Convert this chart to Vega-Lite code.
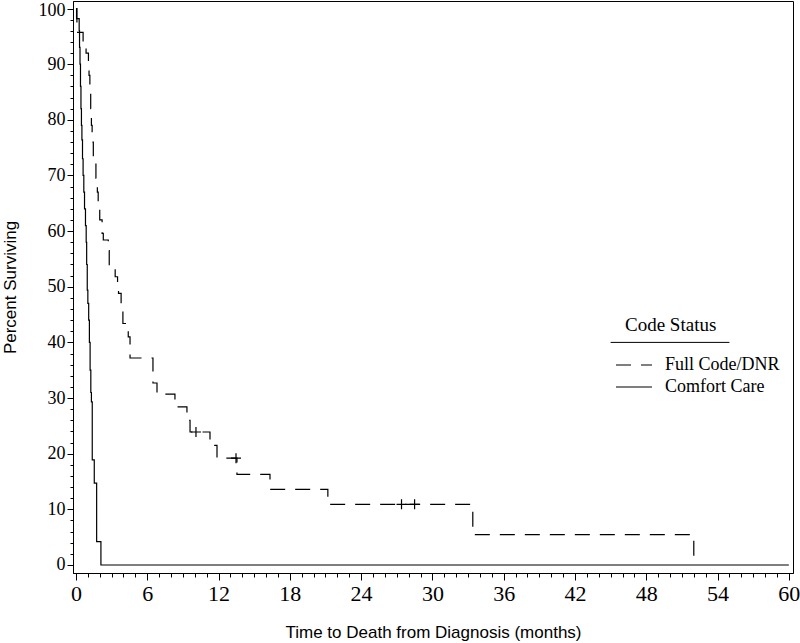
{
  "$schema": "https://vega.github.io/schema/vega-lite/v6.json",
  "width": 720,
  "height": 572,
  "autosize": {"type": "none"},
  "padding": {"left": 73, "top": 1, "right": 7, "bottom": 70},
  "background": "white",
  "config": {
    "view": {"stroke": "black", "strokeWidth": 1},
    "axis": {"grid": false, "domainColor": "black", "tickColor": "black", "labelColor": "black", "titleColor": "black", "labelFont": "Liberation Serif", "titleFont": "Liberation Sans", "titleFontWeight": "normal"}
  },
  "datasets": {
    "km": [
      {"t": 0, "s": 100, "g": "Full Code/DNR"},
      {"t": 0.08, "s": 95.7, "g": "Full Code/DNR"},
      {"t": 0.6, "s": 93.7, "g": "Full Code/DNR"},
      {"t": 0.85, "s": 92, "g": "Full Code/DNR"},
      {"t": 1.05, "s": 90, "g": "Full Code/DNR"},
      {"t": 1.1, "s": 88, "g": "Full Code/DNR"},
      {"t": 1.17, "s": 85, "g": "Full Code/DNR"},
      {"t": 1.24, "s": 82, "g": "Full Code/DNR"},
      {"t": 1.3, "s": 79, "g": "Full Code/DNR"},
      {"t": 1.36, "s": 76, "g": "Full Code/DNR"},
      {"t": 1.46, "s": 72.2, "g": "Full Code/DNR"},
      {"t": 1.68, "s": 69.5, "g": "Full Code/DNR"},
      {"t": 1.8, "s": 67, "g": "Full Code/DNR"},
      {"t": 1.87, "s": 64.6, "g": "Full Code/DNR"},
      {"t": 2.0, "s": 62, "g": "Full Code/DNR"},
      {"t": 2.2, "s": 59.6, "g": "Full Code/DNR"},
      {"t": 2.3, "s": 58.4, "g": "Full Code/DNR"},
      {"t": 2.72, "s": 56.5, "g": "Full Code/DNR"},
      {"t": 2.8, "s": 53.5, "g": "Full Code/DNR"},
      {"t": 3.3, "s": 51.8, "g": "Full Code/DNR"},
      {"t": 3.5, "s": 50.3, "g": "Full Code/DNR"},
      {"t": 3.58, "s": 48.8, "g": "Full Code/DNR"},
      {"t": 3.8, "s": 45.8, "g": "Full Code/DNR"},
      {"t": 3.95, "s": 43.4, "g": "Full Code/DNR"},
      {"t": 4.4, "s": 41, "g": "Full Code/DNR"},
      {"t": 4.55, "s": 37.2, "g": "Full Code/DNR"},
      {"t": 6.48, "s": 32.7, "g": "Full Code/DNR"},
      {"t": 6.82, "s": 30.7, "g": "Full Code/DNR"},
      {"t": 8.33, "s": 28.4, "g": "Full Code/DNR"},
      {"t": 9.34, "s": 26.0, "g": "Full Code/DNR"},
      {"t": 9.6, "s": 23.9, "g": "Full Code/DNR"},
      {"t": 11.28, "s": 21.5, "g": "Full Code/DNR"},
      {"t": 11.87, "s": 19.2, "g": "Full Code/DNR"},
      {"t": 13.55, "s": 16.3, "g": "Full Code/DNR"},
      {"t": 16.33, "s": 13.6, "g": "Full Code/DNR"},
      {"t": 21.2, "s": 10.9, "g": "Full Code/DNR"},
      {"t": 33.4, "s": 5.45, "g": "Full Code/DNR"},
      {"t": 52.0, "s": 0, "g": "Full Code/DNR"},
      {"t": 0, "s": 100, "g": "Comfort Care"},
      {"t": 0.05, "s": 98.2, "g": "Comfort Care"},
      {"t": 0.27, "s": 96, "g": "Comfort Care"},
      {"t": 0.3, "s": 93, "g": "Comfort Care"},
      {"t": 0.34, "s": 90, "g": "Comfort Care"},
      {"t": 0.38, "s": 86, "g": "Comfort Care"},
      {"t": 0.42, "s": 82, "g": "Comfort Care"},
      {"t": 0.46, "s": 79, "g": "Comfort Care"},
      {"t": 0.5, "s": 76.4, "g": "Comfort Care"},
      {"t": 0.55, "s": 73, "g": "Comfort Care"},
      {"t": 0.6, "s": 70, "g": "Comfort Care"},
      {"t": 0.66, "s": 67, "g": "Comfort Care"},
      {"t": 0.72, "s": 64, "g": "Comfort Care"},
      {"t": 0.8, "s": 61, "g": "Comfort Care"},
      {"t": 0.86, "s": 58, "g": "Comfort Care"},
      {"t": 0.9, "s": 54, "g": "Comfort Care"},
      {"t": 0.95, "s": 49.4, "g": "Comfort Care"},
      {"t": 1.0, "s": 47, "g": "Comfort Care"},
      {"t": 1.07, "s": 44, "g": "Comfort Care"},
      {"t": 1.13, "s": 40, "g": "Comfort Care"},
      {"t": 1.19, "s": 35, "g": "Comfort Care"},
      {"t": 1.25, "s": 31, "g": "Comfort Care"},
      {"t": 1.3, "s": 29.3, "g": "Comfort Care"},
      {"t": 1.37, "s": 18.9, "g": "Comfort Care"},
      {"t": 1.54, "s": 14.7, "g": "Comfort Care"},
      {"t": 1.74, "s": 4.2, "g": "Comfort Care"},
      {"t": 2.1, "s": 0, "g": "Comfort Care"},
      {"t": 60, "s": 0, "g": "Comfort Care"}
    ],
    "cens": [
      {"t": 10.1, "s": 23.9},
      {"t": 13.47, "s": 19.2},
      {"t": 27.4, "s": 10.9},
      {"t": 28.5, "s": 10.9}
    ]
  },
  "layer": [
    {
      "data": {"name": "km"},
      "mark": {"type": "line", "interpolate": "step-after", "strokeWidth": 1.2, "color": "black"},
      "encoding": {
        "x": {
          "field": "t", "type": "quantitative",
          "scale": {"domain": [-0.25, 60.35], "nice": false, "zero": false},
          "axis": {
            "title": "Time to Death from Diagnosis (months)",
            "values": [0,6,12,18,24,30,36,42,48,54,60],
            "tickSize": 7,
            "labelOverlap": false,
            "labelFlush": false,
            "labelFontSize": 22,
            "labelPadding": 3,
            "titleFontSize": 17,
            "titleY": 59,
            "titleBaseline": "middle"
          }
        },
        "y": {
          "field": "s", "type": "quantitative",
          "scale": {"domain": [-1.44, 101.35], "nice": false, "zero": false},
          "axis": {
            "title": "Percent Surviving",
            "values": [0,10,20,30,40,50,60,70,80,90,100],
            "tickSize": 6,
            "labelOverlap": false,
            "labelFlush": false,
            "labelFontSize": 18,
            "labelPadding": 2,
            "labelOffset": {"condition": {"test": "datum.value === 100", "value": 2}, "value": 0},
            "titleFontSize": 17,
            "titleX": -63,
            "titleBaseline": "middle"
          }
        },
        "strokeDash": {
          "field": "g", "type": "nominal",
          "scale": {"domain": ["Full Code/DNR", "Comfort Care"], "range": [[15, 10], [1, 0]]},
          "legend": {
            "title": "Code Status",
            "orient": "none",
            "legendX": 552,
            "legendY": 315,
            "padding": 0,
            "symbolType": "M-6,0H6",
            "symbolSize": 36,
            "symbolStrokeColor": "black",
            "symbolStrokeWidth": 1.2,
            "labelOffset": 22,
            "labelFont": "Liberation Serif",
            "labelFontSize": 18,
            "labelColor": "black",
            "titleFont": "Liberation Serif",
            "titleFontSize": 19,
            "titleFontWeight": "normal",
            "titleColor": "black",
            "titlePadding": 21,
            "rowPadding": 4
          }
        }
      }
    },
    {
      "data": {"name": "cens"},
      "mark": {"type": "point", "shape": "M-1,0H1M0,-1V1", "size": 100, "filled": false, "stroke": "black", "strokeWidth": 1.2, "opacity": 1},
      "encoding": {
        "x": {"field": "t", "type": "quantitative", "axis": null},
        "y": {"field": "s", "type": "quantitative", "axis": null}
      }
    },
    {
      "data": {"values": [{}]},
      "mark": {"type": "rule", "color": "black", "strokeWidth": 1},
      "encoding": {
        "x": {"datum": 45, "axis": {"orient": "bottom", "values": [1,2,3,4,5,7,8,9,10,11,13,14,15,16,17,19,20,21,22,23,25,26,27,28,29,31,32,33,34,35,37,38,39,40,41,43,44,45,46,47,49,50,51,52,53,55,56,57,58,59], "labels": false, "domain": false, "tickSize": 4, "title": null, "labelOverlap": false}},
        "x2": {"datum": 55},
        "y": {"datum": 40, "axis": {"orient": "left", "values": [2,4,6,8,12,14,16,18,22,24,26,28,32,34,36,38,42,44,46,48,52,54,56,58,62,64,66,68,72,74,76,78,82,84,86,88,92,94,96,98], "labels": false, "domain": false, "tickSize": 3, "title": null, "labelOverlap": false}}
      }
    }
  ],
  "resolve": {"axis": {"x": "independent", "y": "independent"}}
}
